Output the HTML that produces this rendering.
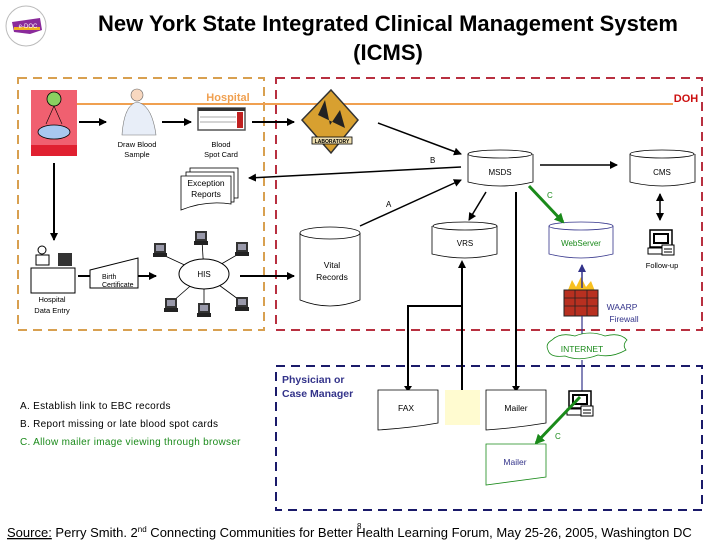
<!DOCTYPE html>
<html><head><meta charset="utf-8"><style>
body{margin:0;width:720px;height:540px;background:#fff;overflow:hidden}
svg{display:block}
text{font-family:"Liberation Sans",sans-serif}
</style></head><body>
<svg width="720" height="540" viewBox="0 0 720 540" xmlns="http://www.w3.org/2000/svg">
<defs>
<marker id="a" markerWidth="8" markerHeight="8" refX="7" refY="4" orient="auto" markerUnits="userSpaceOnUse"><path d="M0,0 L8,4 L0,8z" fill="#000"/></marker>
<marker id="ab" markerWidth="8" markerHeight="8" refX="1" refY="4" orient="auto" markerUnits="userSpaceOnUse"><path d="M8,0 L0,4 L8,8z" fill="#000"/></marker>
<marker id="ag" markerWidth="10" markerHeight="10" refX="8" refY="5" orient="auto" markerUnits="userSpaceOnUse"><path d="M0,0 L10,5 L0,10z" fill="#1a8a1a"/></marker>
<marker id="abl" markerWidth="8" markerHeight="8" refX="7" refY="4" orient="auto" markerUnits="userSpaceOnUse"><path d="M0,0 L8,4 L0,8z" fill="#33338a"/></marker>
<g id="pc"><rect x="0" y="0" width="12" height="10" fill="#333"/><rect x="2" y="2" width="8" height="6" fill="#99a"/><rect x="-1" y="10" width="14" height="4" fill="#222"/></g>
<g id="pcw"><rect x="0" y="0" width="22" height="17" fill="#fff" stroke="#000" stroke-width="1.5"/><rect x="3" y="3" width="16" height="11" fill="#000"/><rect x="5" y="5" width="12" height="7" fill="#fff"/><rect x="-2" y="18" width="20" height="6" fill="#fff" stroke="#000"/><rect x="12" y="15" width="12" height="10" fill="#fff" stroke="#000"/><line x1="14" y1="19" x2="22" y2="19" stroke="#000"/><line x1="14" y1="22" x2="22" y2="22" stroke="#000"/></g>
</defs>

<circle cx="26" cy="26" r="20" fill="#fff" stroke="#bbb"/>
<path d="M12,22 L40,18 L42,30 L30,34 L14,32z" fill="#8a2a9a"/>
<rect x="14" y="27" width="26" height="3" fill="#f0b020"/>
<text x="28" y="28" font-size="6" fill="#fff" text-anchor="middle">e-DOC</text>

<text x="388" y="31" font-size="22" font-weight="bold" text-anchor="middle">New York State Integrated Clinical Management System</text>
<text x="388" y="60" font-size="22" font-weight="bold" text-anchor="middle">(ICMS)</text>

<rect x="18" y="78" width="246" height="252" fill="none" stroke="#d8a050" stroke-width="2" stroke-dasharray="9,6"/>
<rect x="276" y="78" width="426" height="252" fill="none" stroke="#b83040" stroke-width="2" stroke-dasharray="9,6"/>
<rect x="276" y="366" width="426" height="144" fill="none" stroke="#1a1a6a" stroke-width="2" stroke-dasharray="9,6"/>

<line x1="77" y1="104" x2="673" y2="104" stroke="#f0a050" stroke-width="2"/>
<text x="228" y="101" font-size="11" font-weight="bold" fill="#f0a050" text-anchor="middle">Hospital</text>
<text x="686" y="102" font-size="11" font-weight="bold" fill="#cc1010" text-anchor="middle">DOH</text>

<rect x="31" y="90" width="46" height="66" fill="#f06070"/>
<rect x="31" y="145" width="46" height="11" fill="#e02030"/>
<circle cx="54" cy="99" r="7" fill="#8ad060" stroke="#000" stroke-width=".8"/>
<ellipse cx="54" cy="132" rx="16" ry="7" fill="#a8c8f0" stroke="#000" stroke-width=".8"/>
<line x1="54" y1="106" x2="46" y2="124" stroke="#000" stroke-width=".6"/><line x1="54" y1="106" x2="62" y2="124" stroke="#000" stroke-width=".6"/>
<line x1="79" y1="122" x2="106" y2="122" stroke="#000" stroke-width="2" marker-end="url(#a)"/>
<circle cx="137" cy="95" r="6" fill="#f8d8c0" stroke="#666" stroke-width=".6"/>
<path d="M122,135 Q124,105 137,102 Q152,105 156,135z" fill="#e8eef8" stroke="#777" stroke-width=".6"/>
<text x="137" y="147" font-size="7.5" text-anchor="middle">Draw Blood</text>
<text x="137" y="157" font-size="7.5" text-anchor="middle">Sample</text>
<line x1="162" y1="122" x2="191" y2="122" stroke="#000" stroke-width="2" marker-end="url(#a)"/>
<rect x="198" y="108" width="47" height="22" fill="#fff" stroke="#555" stroke-width="1.5"/>
<rect x="198" y="108" width="47" height="3" fill="#333"/>
<rect x="237" y="112" width="6" height="16" fill="#c02020"/>
<line x1="200" y1="117" x2="236" y2="117" stroke="#aaa"/><line x1="200" y1="122" x2="236" y2="122" stroke="#aaa"/>
<text x="221" y="147" font-size="7.5" text-anchor="middle">Blood</text>
<text x="221" y="157" font-size="7.5" text-anchor="middle">Spot Card</text>
<line x1="252" y1="122" x2="294" y2="122" stroke="#000" stroke-width="2" marker-end="url(#a)"/>
<path d="M331,90 L358,120 L331,153 L302,120z" fill="#d8a030" stroke="#333" stroke-width="1.5"/>
<rect x="312" y="137" width="40" height="7" fill="#f0e0b0" stroke="#000" stroke-width=".8"/>
<text x="332" y="143" font-size="5" font-weight="bold" text-anchor="middle">LABORATORY</text>
<path d="M318,115 L325,100 L330,125 L340,110 L345,128z" fill="#222"/>

<rect x="190" y="168" width="48" height="30" fill="#fff" stroke="#000" stroke-width=".8"/>
<rect x="186" y="172" width="48" height="30" fill="#fff" stroke="#000" stroke-width=".8"/>
<path d="M181,176 L231,176 L231,204 Q206,200 181,210z" fill="#fff" stroke="#000" stroke-width=".8"/>
<text x="206" y="186" font-size="8.5" text-anchor="middle">Exception</text>
<text x="206" y="197" font-size="8.5" text-anchor="middle">Reports</text>
<line x1="461" y1="167" x2="249" y2="178" stroke="#000" stroke-width="1.5" marker-end="url(#a)"/>
<text x="430" y="163" font-size="8">B</text>
<line x1="378" y1="123" x2="461" y2="154" stroke="#000" stroke-width="1.5" marker-end="url(#a)"/>
<line x1="360" y1="226" x2="461" y2="180" stroke="#000" stroke-width="1.5" marker-end="url(#a)"/>
<text x="386" y="207" font-size="8">A</text>

<g fill="#fff" stroke="#000" stroke-width=".8">
<path d="M468,154 L468,182 Q500,190 533,182 L533,154"/><ellipse cx="500" cy="154" rx="32" ry="4"/>
<path d="M630,154 L630,182 Q662,190 695,182 L695,154"/><ellipse cx="662" cy="154" rx="32" ry="4"/>
<path d="M432,226 L432,254 Q465,262 497,254 L497,226"/><ellipse cx="465" cy="226" rx="32" ry="4"/>
</g>
<g fill="#fff" stroke="#33338a" stroke-width=".8">
<path d="M549,226 L549,254 Q581,262 613,254 L613,226"/><ellipse cx="581" cy="226" rx="32" ry="4"/>
</g>
<text x="500" y="175" font-size="8" text-anchor="middle">MSDS</text>
<text x="662" y="175" font-size="8" text-anchor="middle">CMS</text>
<text x="465" y="246" font-size="8" text-anchor="middle">VRS</text>
<text x="581" y="246" font-size="8" fill="#1a8a1a" text-anchor="middle">WebServer</text>
<line x1="540" y1="165" x2="617" y2="165" stroke="#000" stroke-width="1.5" marker-end="url(#a)"/>
<line x1="486" y1="192" x2="469" y2="220" stroke="#000" stroke-width="1.5" marker-end="url(#a)"/>
<line x1="529" y1="186" x2="563" y2="222" stroke="#1a8a1a" stroke-width="3" marker-end="url(#ag)"/>
<text x="547" y="198" font-size="8" fill="#1a8a1a">C</text>
<line x1="660" y1="194" x2="660" y2="220" stroke="#000" stroke-width="1.5" marker-end="url(#a)" marker-start="url(#ab)"/>
<use href="#pcw" x="650" y="230"/>
<text x="662" y="268" font-size="7.5" text-anchor="middle">Follow-up</text>

<path d="M568,290 L572,280 L576,287 L581,277 L586,287 L591,281 L595,291z" fill="#f8c020"/>
<rect x="564" y="290" width="34" height="26" fill="#b83020" stroke="#222"/>
<g stroke="#222" stroke-width=".8"><line x1="564" y1="298" x2="598" y2="298"/><line x1="564" y1="306" x2="598" y2="306"/><line x1="575" y1="290" x2="575" y2="316"/><line x1="587" y1="290" x2="587" y2="316"/></g>
<text x="622" y="310" font-size="8.5" fill="#33338a" text-anchor="middle">WAARP</text>
<text x="624" y="322" font-size="8.5" fill="#33338a" text-anchor="middle">Firewall</text>
<line x1="582" y1="288" x2="582" y2="265" stroke="#33338a" stroke-width="1.5" marker-end="url(#abl)"/>
<line x1="582" y1="316" x2="582" y2="337" stroke="#33338a" stroke-width="1.2"/>
<path d="M552,340 Q560,332 575,336 Q590,330 605,336 Q620,332 627,340 Q622,345 626,350 Q612,358 598,355 Q580,362 565,356 Q550,358 548,350 Q545,344 552,340z" fill="#fff" stroke="#1a8a1a" stroke-width=".8"/>
<text x="582" y="352" font-size="8.5" fill="#1a8a1a" text-anchor="middle">INTERNET</text>
<line x1="582" y1="360" x2="582" y2="396" stroke="#33338a" stroke-width="1.2"/>

<line x1="54" y1="163" x2="54" y2="240" stroke="#000" stroke-width="2" marker-end="url(#a)"/>
<circle cx="42" cy="250" r="4" fill="#fff" stroke="#000"/>
<rect x="36" y="255" width="13" height="10" fill="#fff" stroke="#000"/>
<rect x="31" y="268" width="44" height="25" fill="#fff" stroke="#000"/>
<rect x="58" y="253" width="14" height="13" fill="#333"/>
<text x="52" y="302" font-size="7.5" text-anchor="middle">Hospital</text>
<text x="52" y="313" font-size="7.5" text-anchor="middle">Data Entry</text>
<line x1="78" y1="276" x2="90" y2="276" stroke="#000" stroke-width="2"/>
<path d="M90,270 L138,258 L138,288 L90,288z" fill="#fff" stroke="#000"/>
<text x="102" y="279" font-size="7">Birth</text>
<text x="102" y="287" font-size="7">Certificate</text>
<line x1="138" y1="276" x2="156" y2="276" stroke="#000" stroke-width="2" marker-end="url(#a)"/>
<g stroke="#000" stroke-width=".8">
<line x1="204" y1="274" x2="163" y2="255"/><line x1="204" y1="274" x2="202" y2="240"/><line x1="204" y1="274" x2="242" y2="252"/>
<line x1="204" y1="274" x2="172" y2="302"/><line x1="204" y1="274" x2="204" y2="308"/><line x1="204" y1="274" x2="242" y2="302"/>
</g>
<ellipse cx="204" cy="274" rx="25" ry="15" fill="#fff" stroke="#000"/>
<text x="204" y="277" font-size="8" text-anchor="middle">HIS</text>
<use href="#pc" x="154" y="243"/><use href="#pc" x="195" y="231"/><use href="#pc" x="236" y="242"/>
<use href="#pc" x="165" y="298"/><use href="#pc" x="198" y="303"/><use href="#pc" x="236" y="297"/>
<line x1="240" y1="276" x2="294" y2="276" stroke="#000" stroke-width="2" marker-end="url(#a)"/>
<path d="M300,233 L300,300 Q330,312 360,300 L360,233" fill="#fff" stroke="#000" stroke-width=".8"/>
<ellipse cx="330" cy="233" rx="30" ry="6" fill="#fff" stroke="#000" stroke-width=".8"/>
<text x="332" y="268" font-size="8.5" text-anchor="middle">Vital</text>
<text x="332" y="280" font-size="8.5" text-anchor="middle">Records</text>

<g stroke="#000" stroke-width="2" fill="none">
<polyline points="408,388 408,306 462,306"/>
<line x1="462" y1="390" x2="462" y2="266"/>
<line x1="516" y1="192" x2="516" y2="388"/>
</g>
<path d="M458,268 L462,260 L466,268z" fill="#000"/>
<path d="M404,386 L408,392 L412,386z" fill="#000"/>
<path d="M512,386 L516,392 L520,386z" fill="#000"/>

<text x="282" y="383" font-size="10.5" font-weight="bold" fill="#33338a">Physician or</text>
<text x="282" y="397" font-size="10.5" font-weight="bold" fill="#33338a">Case Manager</text>
<path d="M378,390 L438,390 L438,423 Q410,428 378,430z" fill="#fff" stroke="#000" stroke-width=".8"/>
<text x="406" y="411" font-size="8.5" text-anchor="middle">FAX</text>
<rect x="445" y="390" width="35" height="35" fill="#fffbd0"/>
<path d="M486,390 L546,390 L546,423 Q516,428 486,430z" fill="#fff" stroke="#000" stroke-width=".8"/>
<text x="516" y="411" font-size="8.5" text-anchor="middle">Mailer</text>
<use href="#pcw" x="569" y="391"/>
<line x1="580" y1="397" x2="536" y2="443" stroke="#1a8a1a" stroke-width="3" marker-end="url(#ag)"/>
<text x="555" y="439" font-size="8" fill="#1a8a1a">C</text>
<path d="M486,444 L546,444 L546,477 Q516,481 486,485z" fill="#fff" stroke="#1a8a1a" stroke-width=".8"/>
<text x="515" y="465" font-size="8.5" fill="#33338a" text-anchor="middle">Mailer</text>

<text x="20" y="409" font-size="10" letter-spacing=".3">A. Establish link to EBC records</text>
<text x="20" y="427" font-size="10" letter-spacing=".3">B. Report missing or late blood spot cards</text>
<text x="20" y="445" font-size="10" letter-spacing=".3" fill="#1a8a1a">C. Allow mailer image viewing through browser</text>

<text x="7" y="537" font-size="13"><tspan text-decoration="underline">Source:</tspan> Perry Smith. 2<tspan font-size="8" dy="-5">nd</tspan><tspan dy="5"> Connecting Communities for Better Health Learning Forum, May 25-26, 2005, Washington DC</tspan></text>
<text x="357" y="529" font-size="8">8</text>
</svg>
</body></html>
